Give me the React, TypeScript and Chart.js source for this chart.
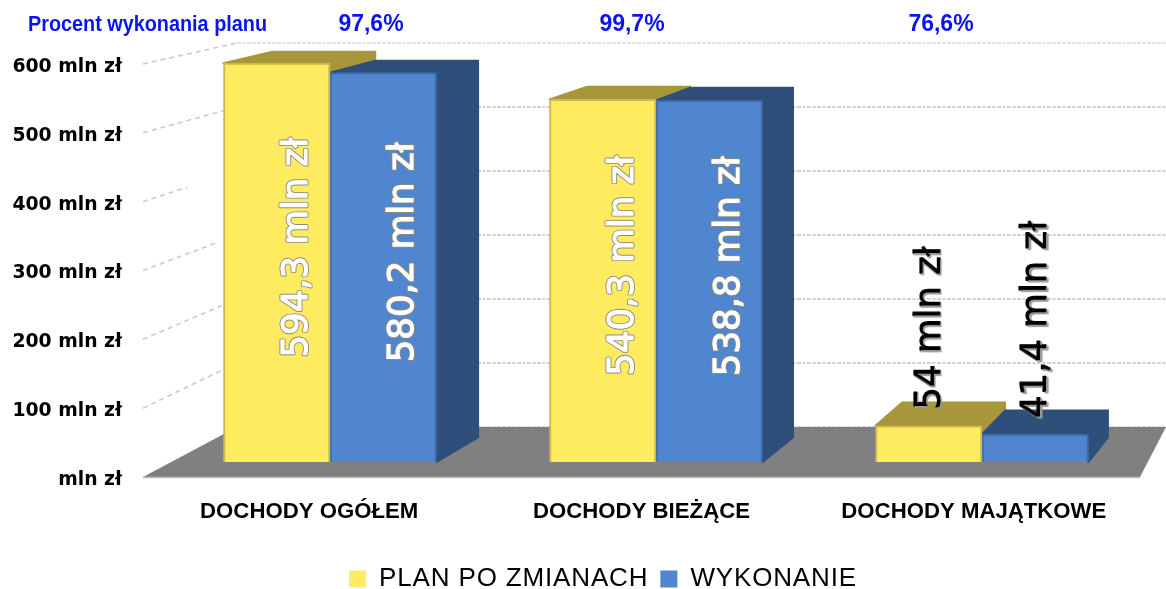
import React, { useEffect, useRef } from "react";
import { Chart, registerables } from "chart.js";

Chart.register(...registerables);

const categories = ["DOCHODY OGÓŁEM", "DOCHODY BIEŻĄCE", "DOCHODY MAJĄTKOWE"];
const planValues = [594.3, 540.3, 54];
const actualValues = [580.2, 538.8, 41.4];
const planLabels = ["594,3 mln zł", "540,3 mln zł", "54 mln zł"];
const actualLabels = ["580,2 mln zł", "538,8 mln zł", "41,4 mln zł"];
const percentLabels = ["97,6%", "99,7%", "76,6%"];
const percentCenters = [371, 632, 941];
const seriesNames = ["PLAN PO ZMIANACH", "WYKONANIE"];
const headerText = "Procent wykonania planu";
const wallTicks = [0, 100, 200, 300, 400, 500, 600];
const sideLineReach = [0, 1, 1, 0.8, 0.47, 1, 1];

const YELLOW = "#FFEB60";
const YELLOW_EDGE = "#CDB84A";
const YELLOW_DARK = "#A8963A";
const BLUE = "#4F86CF";
const BLUE_EDGE = "#3E6CA8";
const BLUE_DARK = "#2F4F7B";
const BLUE_TEXT = "#0A14F0";
const LEGEND_SPACING = "0.85px";

const depthX = (x: number) => (1660 - x) * 0.034;
const depthY = (y: number) => (y + 290) * 0.0326;

function poly(ctx: CanvasRenderingContext2D, pts: number[][], fill: string, round = false) {
  ctx.beginPath();
  pts.forEach((p, i) => (i ? ctx.lineTo(p[0], p[1]) : ctx.moveTo(p[0], p[1])));
  ctx.closePath();
  ctx.fillStyle = fill;
  ctx.fill();
  if (round) {
    ctx.strokeStyle = fill;
    ctx.lineJoin = "round";
    ctx.lineWidth = 2;
    ctx.stroke();
  }
}

const scenePlugin = {
  id: "scene",
  beforeLayout(chart: any) {
    const lg = chart.legend;
    if (lg && !lg.__spaced) {
      lg.__spaced = true;
      const ctx = chart.ctx;
      const fit = lg.fit.bind(lg);
      const draw = lg.draw.bind(lg);
      lg.fit = () => {
        ctx.letterSpacing = LEGEND_SPACING;
        fit();
        ctx.letterSpacing = "0px";
      };
      lg.draw = () => {
        ctx.letterSpacing = LEGEND_SPACING;
        draw();
        ctx.letterSpacing = "0px";
      };
    }
  },
  afterLayout(chart: any) {
    const lg = chart.legend;
    lg.left += 33;
    lg.right += 33;
    lg.top = 554;
  },
  beforeDatasetsDraw(chart: any) {
    const ctx: CanvasRenderingContext2D = chart.ctx;
    const { y, yBack } = chart.scales;
    const { left, right } = chart.chartArea;
    const backLeft = left + 94;
    const backRight = 1166;
    ctx.save();
    ctx.lineWidth = 1.6;
    wallTicks.forEach((v, i) => {
      const py = yBack.getPixelForValue(v);
      ctx.setLineDash([4, 1.5, 3, 1.5]);
      ctx.strokeStyle = v === 600 ? "#D6D6D6" : "#C2C2C2";
      ctx.beginPath();
      ctx.moveTo(backLeft, py);
      ctx.lineTo(backRight, py);
      ctx.stroke();
      if (v > 0) {
        const sy = y.getPixelForValue(v);
        const t = sideLineReach[i];
        ctx.setLineDash([5, 4]);
        ctx.strokeStyle = "#CBCBCB";
        ctx.beginPath();
        ctx.moveTo(left, sy);
        ctx.lineTo(left + (backLeft - left) * t, sy + (py - sy) * t);
        ctx.stroke();
      }
    });
    ctx.setLineDash([]);
    const fy = y.getPixelForValue(0);
    const by = yBack.getPixelForValue(0);
    poly(ctx, [[left, fy], [right, fy], [backRight, by], [backLeft, by]], "#808080");
    ctx.strokeStyle = "#BDBDBD";
    ctx.lineWidth = 1.5;
    ctx.beginPath();
    ctx.moveTo(left, fy + 0.5);
    ctx.lineTo(right, fy + 0.5);
    ctx.stroke();
    [YELLOW_DARK, BLUE_DARK].forEach((shade, d) => {
      chart.getDatasetMeta(d).data.forEach((bar: any) => {
        const x0 = bar.x - bar.width / 2;
        const x1 = bar.x + bar.width / 2;
        const top = bar.y;
        const base = bar.base;
        poly(ctx, [[x1, top], [x1 + depthX(x1), top - depthY(top)], [x1 + depthX(x1), base - depthY(base)], [x1, base]], shade, true);
        poly(ctx, [[x0, top], [x0 + depthX(x0), top - depthY(top)], [x1 + depthX(x1), top - depthY(top)], [x1, top]], shade, true);
      });
    });
    ctx.restore();
  },
  afterDatasetsDraw(chart: any) {
    const ctx: CanvasRenderingContext2D = chart.ctx;
    ctx.save();
    [planLabels, actualLabels].forEach((labels, d) => {
      chart.getDatasetMeta(d).data.forEach((bar: any, i: number) => {
        const h = bar.base - bar.y;
        const inside = h > 100;
        ctx.save();
        ctx.font = "35.5px 'DejaVu Sans'";
        ctx.textBaseline = "middle";
        ctx.textAlign = inside ? "center" : "left";
        ctx.lineJoin = "round";
        if (inside) {
          ctx.translate(bar.x + 21, (bar.y + bar.base) / 2 - 15);
        } else {
          ctx.translate(bar.x + 2, bar.y - 16);
        }
        ctx.rotate(-Math.PI / 2);
        if (inside) {
          ctx.strokeStyle = "#8A8A7A";
          ctx.lineWidth = 3;
          ctx.strokeText(labels[i], 0, 0);
          ctx.strokeStyle = "#FFFFFF";
          ctx.lineWidth = 1.2;
          ctx.strokeText(labels[i], 0, 0);
          ctx.fillStyle = "#FFFFFF";
        } else {
          ctx.shadowColor = "#999999";
          ctx.shadowOffsetX = 1.5;
          ctx.shadowOffsetY = 1.5;
          ctx.shadowBlur = 1;
          ctx.strokeStyle = "#000000";
          ctx.lineWidth = 1.2;
          ctx.strokeText(labels[i], 0, 0);
          ctx.fillStyle = "#000000";
        }
        ctx.fillText(labels[i], 0, 0);
        ctx.restore();
      });
    });
    ctx.fillStyle = BLUE_TEXT;
    ctx.textBaseline = "middle";
    ctx.textAlign = "left";
    ctx.font = "bold 22px 'Liberation Sans'";
    ctx.fillText(headerText, 28, 25, 239);
    ctx.textAlign = "center";
    ctx.font = "bold 23px 'Liberation Sans'";
    percentLabels.forEach((t, i) => ctx.fillText(t, percentCenters[i], 25));
    ctx.restore();
  },
};

export default function App() {
  const ref = useRef<HTMLCanvasElement>(null);
  useEffect(() => {
    if (!ref.current) return;
    const chart = new Chart(ref.current, {
      type: "bar",
      plugins: [scenePlugin],
      data: {
        labels: categories,
        datasets: [
          {
            label: seriesNames[0],
            data: planValues.map((v, i) => ({ x: i, y: v })),
            backgroundColor: YELLOW,
            borderColor: YELLOW_EDGE,
            borderWidth: 2,
            xAxisID: "xBars",
            yAxisID: "yBars",
          },
          {
            label: seriesNames[1],
            data: actualValues.map((v, i) => ({ x: i, y: v })),
            backgroundColor: BLUE,
            borderColor: BLUE_EDGE,
            borderWidth: 2,
            xAxisID: "xBars",
            yAxisID: "yBars",
          },
        ] as any,
      },
      options: {
        animation: false,
        responsive: false,
        layout: { padding: { top: 43, right: 26, left: 0, bottom: 0 } },
        plugins: {
          tooltip: { enabled: false },
          legend: {
            position: "bottom",
            labels: {
              boxWidth: 17,
              boxHeight: 17,
              padding: 12,
              color: "#222222",
              font: { family: "'Liberation Sans'", size: 26 },
              generateLabels: () =>
                seriesNames.map((n, i) => ({
                  text: n,
                  fillStyle: i ? BLUE : YELLOW,
                  strokeStyle: i ? BLUE : YELLOW,
                  lineWidth: 0,
                  datasetIndex: i,
                })),
            },
          },
        },
        scales: {
          x: {
            type: "category",
            position: "bottom",
            grid: { display: false, drawTicks: false },
            border: { display: false },
            ticks: {
              color: "#000000",
              padding: 22,
              maxRotation: 0,
              font: { family: "'Liberation Sans'", size: 22.2, weight: "bold" },
            },
            afterFit: (s: any) => {
              s.height = 589 - 477 - s.chart.legend.height;
            },
          },
          y: {
            type: "linear",
            position: "left",
            min: 0,
            max: 630.5,
            grid: { display: false, drawTicks: false },
            border: { display: false },
            ticks: {
              stepSize: 100,
              includeBounds: false,
              padding: 21,
              labelOffset: 3,
              color: "#000000",
              font: { family: "'DejaVu Sans'", size: 18.8, weight: "bold" },
              callback: (v: any) => (v === 0 ? "mln zł" : `${v} mln zł`),
            },
            afterFit: (s: any) => {
              s.width = 143;
            },
          },
          xBars: { type: "linear", display: false, offset: false, position: "bottom", min: -0.5736, max: 2.4847 },
          yBars: { type: "linear", display: false, position: "left", min: -22.35, max: 624.4 },
          yBack: { type: "linear", display: false, position: "left", min: -78.1, max: 600 },
        },
        datasets: { bar: { barThickness: 106.5 } },
      } as any,
    });
    return () => chart.destroy();
  }, []);
  return (
    <div style={{ position: "absolute", left: 0, top: 0, width: 1166, height: 589, background: "#FFFFFF" }}>
      <canvas ref={ref} width={1166} height={589} style={{ display: "block", filter: "blur(0.4px)" }} />
    </div>
  );
}
